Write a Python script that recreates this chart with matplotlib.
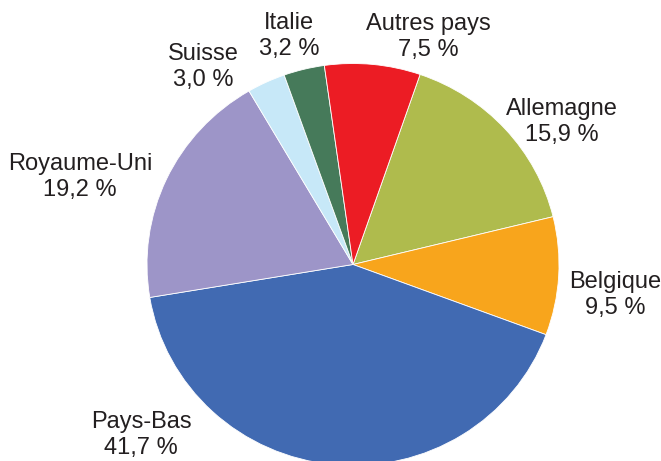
import matplotlib
matplotlib.use("Agg")
import matplotlib.pyplot as plt

countries = ["Allemagne", "Belgique", "Pays-Bas", "Royaume-Uni", "Suisse", "Italie", "Autres pays"]
shares = [15.9, 9.5, 41.7, 19.2, 3.0, 3.2, 7.5]
colors = ["#AFBB4D", "#F8A51C", "#416AB2", "#9D95C8", "#C7E8F8", "#467A5A", "#EC1C24"]

# label block centres in pixel coordinates (x from left, y from top)
label_pos = {
    "Allemagne": (562, 122),
    "Belgique": (615, 295),
    "Pays-Bas": (141, 435),
    "Royaume-Uni": (80, 177),
    "Suisse": (203, 67),
    "Italie": (289, 36),
    "Autres pays": (428, 37),
}

W, H = 661, 461
fig = plt.figure(figsize=(W / 100, H / 100), dpi=100)
fig.patch.set_facecolor("white")

cx, cy, rx, ry = 353, 264.5, 206, 201
ax = fig.add_axes([(cx - rx) / W, (H - cy - ry) / H, 2 * rx / W, 2 * ry / H])
ax.pie(shares, colors=colors, startangle=71.0, counterclock=False,
       wedgeprops=dict(edgecolor="white", linewidth=0.6))
ax.set_aspect("auto")
ax.set_xlim(-1, 1)
ax.set_ylim(-1, 1)
ax.axis("off")

for name, val in zip(countries, shares):
    x, y = label_pos[name]
    txt = f"{name}\n{val:.1f} %".replace(".", ",")
    fig.text(x / W, 1 - y / H, txt, ha="center", va="center", fontsize=17,
             family=["Liberation Sans", "DejaVu Sans"], color="#231F20",
             linespacing=1.28, multialignment="center")

fig.savefig("out.png", dpi=100, facecolor="white")
